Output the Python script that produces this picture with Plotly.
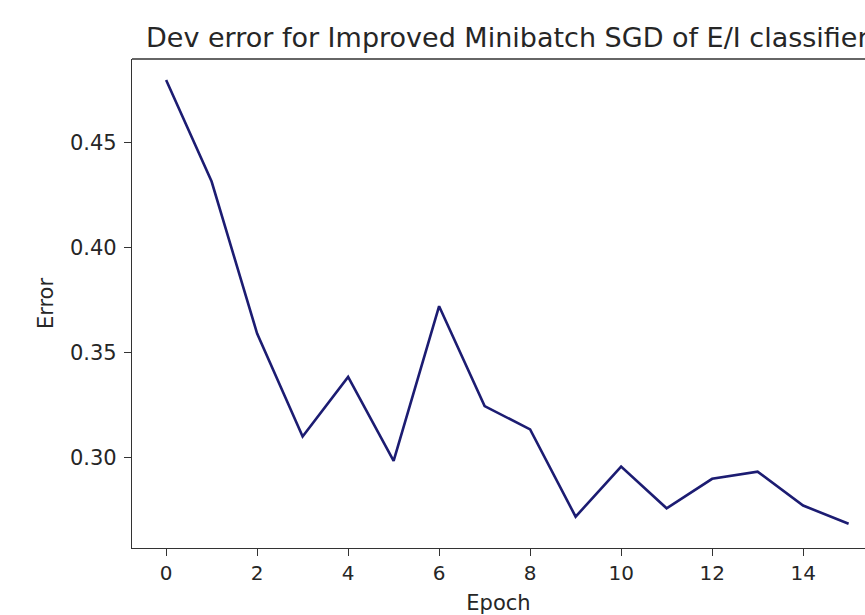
import plotly.graph_objects as go

epochs = list(range(16))
dev_error = [0.4796, 0.4313, 0.359, 0.310, 0.3384, 0.2984, 0.372, 0.3245,
             0.3134, 0.2719, 0.2957, 0.2759, 0.2899, 0.2933, 0.2772, 0.2685]
x_ticks = [0, 2, 4, 6, 8, 10, 12, 14]
y_ticks = [0.30, 0.35, 0.40, 0.45]
y_tick_labels = ["0.30", "0.35", "0.40", "0.45"]

title_text = "Dev error for Improved Minibatch SGD of E/I classifier"
font_family = "DejaVu Sans"
text_color = "#262626"

fig = go.Figure()
fig.add_trace(go.Scatter(
    x=epochs, y=dev_error, mode="lines",
    line=dict(color="#1c1c72", width=2.6),
    showlegend=False, hoverinfo="x+y",
))

fig.update_layout(
    width=865, height=615,
    margin=dict(l=132, r=0, t=59, b=67, pad=0),
    plot_bgcolor="white", paper_bgcolor="white",
    font=dict(family=font_family, size=21, color=text_color),
    xaxis=dict(
        range=[-0.75, 15.36], tickmode="array", tickvals=x_ticks,
        ticks="outside", ticklen=7, tickwidth=1.2, tickcolor="#333",
        showline=True, linecolor="#333", linewidth=1.3, mirror=False,
        showgrid=False, zeroline=False,
        tickfont=dict(size=20, color=text_color),
        title=dict(text="Epoch", font=dict(size=21, color=text_color), standoff=13),
    ),
    yaxis=dict(
        range=[0.2570, 0.4896], tickmode="array", tickvals=y_ticks,
        ticktext=y_tick_labels,
        ticks="outside", ticklen=7, tickwidth=1.2, tickcolor="#333",
        showline=True, linecolor="#333", linewidth=1.3, mirror=False,
        showgrid=False, zeroline=False,
        tickfont=dict(size=21, color=text_color),
        ticklabelstandoff=3,
        title=dict(text="Error", font=dict(size=21, color=text_color), standoff=10),
    ),
    shapes=[dict(type="line", xref="paper", yref="paper", x0=0, x1=1, y0=1, y1=1,
                 line=dict(color="#333", width=1.3))],
    annotations=[dict(text=title_text, xref="x", yref="paper", x=7.5, y=1,
                      xanchor="center", yanchor="bottom", showarrow=False,
                      yshift=4, font=dict(size=27, color=text_color))],
)

fig.write_html("out.html", config={"displayModeBar": False},
               post_script="document.body.style.margin='0';document.body.style.overflow='hidden';")
